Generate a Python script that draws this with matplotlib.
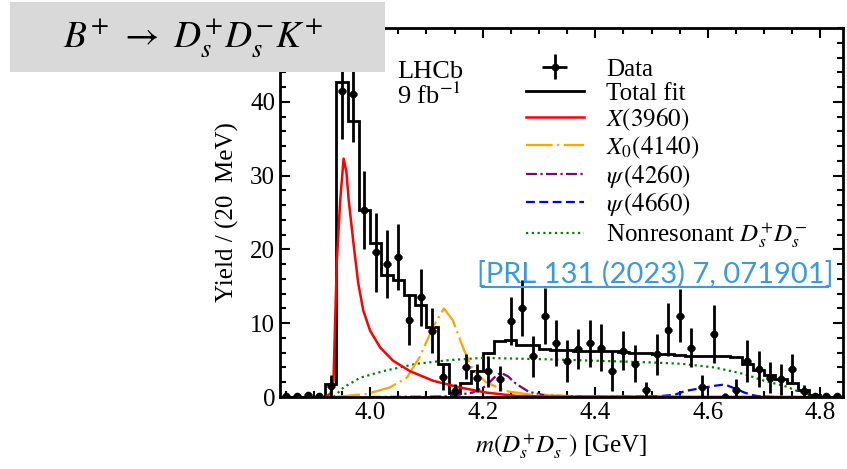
import matplotlib
matplotlib.use("Agg")
import matplotlib.pyplot as plt
from matplotlib.patches import Rectangle
from matplotlib.lines import Line2D
import numpy as np

plt.rcParams['font.family'] = 'serif'
plt.rcParams['font.serif'] = ['Liberation Serif', 'DejaVu Serif']
plt.rcParams['mathtext.fontset'] = 'stix'

# bin centres (20 MeV bins from 3.84 to 4.84 GeV)
bin_edges = np.round(np.arange(3.84, 4.8401, 0.02), 2)
bin_centres = bin_edges[:-1] + 0.01

data_y = [0.2, 0.1, 0.3, 0.1, 1.5, 41.5, 41.0, 25.3, 19.6, 18.0,
          19.0, 10.5, 13.5, 9.0, 2.7, 0.8, 4.1, 2.6, 3.5, 2.5,
          10.3, 12.0, 5.5, 11.0, 7.3, 4.9, 6.5, 7.3, 6.7, 3.5,
          6.3, 4.5, 1.0, 5.8, 9.1, 11.0, 6.7, 1.3, 8.5, 0.0,
          1.0, 4.9, 3.8, 2.6, 2.4, 3.8, 0.8, 0.2, 0.1, 0.1]
data_err = [0.3, 0.3, 0.4, 0.3, 1.5, 6.5, 6.5, 5.3, 5.4, 4.6,
            4.5, 3.4, 3.9, 3.1, 1.7, 1.0, 1.7, 1.9, 2.1, 1.7,
            3.3, 3.8, 2.8, 3.8, 3.1, 2.8, 2.7, 3.2, 3.2, 2.7,
            2.7, 2.5, 1.0, 2.8, 3.6, 3.6, 2.6, 1.7, 3.9, 0.5,
            1.5, 2.8, 2.5, 2.1, 2.1, 2.0, 0.8, 0.3, 0.3, 0.3]

total_fit = [0, 0, 0, 0, 1.8, 42.7, 37.4, 25.4, 20.8, 16.5,
             15.8, 13.8, 12.4, 9.5, 4.5, 0.6, 1.9, 3.5, 6.0, 7.6,
             7.7, 7.1, 7.0, 6.5, 6.4, 6.4, 6.3, 6.3, 6.2, 6.2,
             6.1, 6.0, 5.9, 5.8, 5.8, 5.7, 5.6, 5.5, 5.5, 5.6,
             5.4, 4.5, 3.7, 3.0, 2.4, 1.9, 0.9, 0.3, 0, 0]

# component curves
x3960_m = [3.921, 3.930, 3.935, 3.941, 3.947, 3.953, 3.958, 3.962, 3.971, 3.979,
           3.988, 4.000, 4.018, 4.041, 4.071, 4.112, 4.159, 4.206, 4.259, 4.320,
           4.500, 4.800]
x3960_y = [0.0, 0.5, 2.2, 18.5, 26.7, 32.3, 30.5, 26.7, 20.5, 15.4,
           11.7, 9.0, 6.7, 4.9, 3.5, 2.2, 1.3, 0.6, 0.15, 0.05,
           0.02, 0.0]

x4140_m = [3.935, 3.994, 4.035, 4.065, 4.088, 4.112, 4.131, 4.147, 4.165, 4.182,
           4.206, 4.241, 4.288, 4.350, 4.450, 4.600]
x4140_y = [0.0, 0.4, 1.3, 2.6, 5.4, 9.5, 12.0, 10.4, 6.7, 3.8,
           2.0, 0.8, 0.3, 0.15, 0.05, 0.0]

psi4260_m = [4.000, 4.100, 4.141, 4.182, 4.206, 4.220, 4.232, 4.245, 4.259, 4.282,
             4.306, 4.347, 4.420, 4.550]
psi4260_y = [0.0, 0.05, 0.1, 0.6, 1.5, 2.6, 3.3, 2.8, 1.8, 0.7,
             0.3, 0.1, 0.03, 0.0]

psi4660_m = [4.400, 4.512, 4.541, 4.559, 4.588, 4.610, 4.630, 4.653, 4.665, 4.677,
             4.690, 4.720]
psi4660_y = [0.0, 0.1, 0.3, 0.8, 1.2, 1.5, 1.7, 1.0, 0.6, 0.3,
             0.1, 0.0]

nonres_m = [3.935, 3.953, 3.982, 4.023, 4.082, 4.141, 4.200, 4.260, 4.318, 4.406,
            4.494, 4.553, 4.612, 4.665, 4.700, 4.736, 4.759, 4.777, 4.795]
nonres_y = [0.0, 1.3, 2.6, 3.5, 4.5, 5.0, 5.3, 5.2, 5.1, 4.9,
            4.7, 4.5, 4.0, 3.1, 2.2, 1.5, 0.8, 0.4, 0.0]

fig = plt.figure(figsize=(8.47, 4.69), dpi=100)
ax = fig.add_axes([280 / 847, 1 - 397 / 469, 563 / 847, 369 / 469])

ax.plot(nonres_m, nonres_y, color='#008000', lw=1.6, linestyle=(0, (1, 1.6)),
        label=r'Nonresonant $D_s^{+}D_s^{-}$')
ax.plot(psi4660_m, psi4660_y, color='#0000ff', lw=1.6, linestyle=(0, (4, 2)),
        label=r'$\psi\,(4660)$')
ax.plot(psi4260_m, psi4260_y, color='#800080', lw=1.6, linestyle=(0, (5, 1.5, 1, 1.5)),
        label=r'$\psi\,(4260)$')
ax.plot(x4140_m, x4140_y, color='#ffa500', lw=1.6, linestyle=(0, (12, 2, 1, 2)),
        label=r'$X_0(4140)$')
ax.plot(x3960_m, x3960_y, color='#ff0000', lw=1.8, label=r'$X(3960)$')
ax.stairs(total_fit, bin_edges, color='black', lw=2, label='Total fit')
ax.errorbar(bin_centres, data_y, yerr=data_err, xerr=0.007, fmt='o', color='black',
            ms=4.5, elinewidth=2, capsize=0, label='Data')

ax.set_xlim(3.84, 4.84)
ax.set_ylim(0, 50)
ax.set_xticks([4.0, 4.2, 4.4, 4.6, 4.8])
ax.set_xticks(np.arange(3.85, 4.84, 0.05), minor=True)
ax.set_yticks([0, 10, 20, 30, 40])
ax.set_yticks(np.arange(0, 50.1, 2), minor=True)
ax.tick_params(which='both', direction='in', top=True, right=True, labelsize=18, width=1.5)
ax.tick_params(which='major', length=7)
ax.tick_params(which='minor', length=4)
for s in ax.spines.values():
    s.set_linewidth(2)

ax.set_xlabel(r'$m(D_s^{+}D_s^{-})$ [GeV]', fontsize=18, labelpad=5)
ax.set_ylabel('Yield / (20  MeV)', fontsize=18, labelpad=8)

ax.text(0.208, 0.91, 'LHCb\n9 fb$^{-1}$', transform=ax.transAxes, fontsize=19,
        va='top', ha='left', linespacing=1.0)

handles, labels = ax.get_legend_handles_labels()
handles = handles[::-1]
labels = labels[::-1]
ax.legend(handles, labels, loc='upper left', bbox_to_anchor=(526 / 847, 1 - 58 / 469),
          bbox_transform=fig.transFigure, frameon=False, fontsize=18,
          labelspacing=0.07, handlelength=2.3, handletextpad=0.9, borderpad=0, borderaxespad=0)

# reference label
fig.text(655 / 847, 1 - 283 / 469, '[PRL 131 (2023) 7, 071901]', color='#3a9ae0',
         fontsize=21, family='Lato', ha='center', va='baseline')
fig.add_artist(Line2D([482 / 847, 828 / 847], [1 - 287 / 469, 1 - 287 / 469],
                      transform=fig.transFigure, color='#3a9ae0', lw=1.5))

# title box
fig.add_artist(Rectangle((10 / 847, 1 - 72 / 469), 375 / 847, 70 / 469,
                         transform=fig.transFigure, facecolor='#d9d9d9',
                         edgecolor='none', zorder=5))
fig.text(193 / 847, 1 - 38 / 469, r'$B^{+}\ \rightarrow\ D_s^{+}D_s^{-}K^{+}$',
         fontsize=27, ha='center', va='center', zorder=6)

fig.savefig('out.png', dpi=100)
